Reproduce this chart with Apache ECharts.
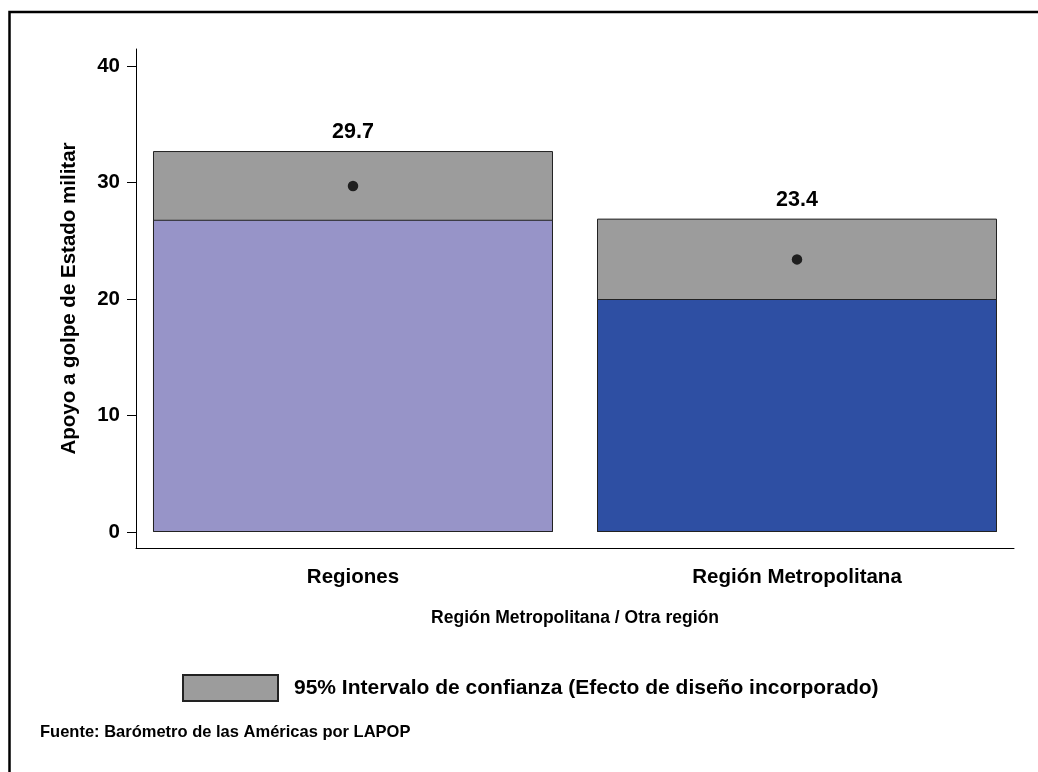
<!DOCTYPE html>
<html>
<head>
<meta charset="utf-8">
<script src="https://cdn.jsdelivr.net/npm/echarts@6/dist/echarts.min.js"></script>
<style>
  html, body { margin: 0; padding: 0; background: #fff; }
  #chart { width: 1038px; height: 772px; }
</style>
</head>
<body>
<div id="chart"></div>
<script>
// Support for a military coup, by region, with 95% confidence intervals
const categories = ['Regiones', 'Región Metropolitana'];
const means = [29.7, 23.4];
const ciLower = [26.8, 20.0];
const ciUpper = [32.7, 26.9];
const barColors = ['#9794c8', '#2e4fa3'];
const yTicks = [0, 10, 20, 30, 40];

const FONT = '"Liberation Sans", Arial, sans-serif';
const positions = categories.map((_, i) => i + 1);

const chart = echarts.init(document.getElementById('chart'), null, { renderer: 'canvas' });

chart.setOption({
  backgroundColor: '#fff',
  animation: false,
  textStyle: { fontFamily: FONT, fontWeight: 'bold', color: '#000' },
  grid: { left: 136, right: 24, top: 49, bottom: 224, containLabel: false },
  xAxis: {
    type: 'value',
    min: 0.5113,
    max: 2.4887,
    splitLine: { show: false },
    axisLine: { show: true, onZero: false, lineStyle: { color: '#000', width: 1 } },
    axisTick: { show: false },
    axisLabel: {
      customValues: positions,
      formatter: v => categories[Math.round(v) - 1] || '',
      margin: 19,
      fontSize: 20.5,
      fontWeight: 'bold',
      fontFamily: FONT,
      color: '#000'
    },
    name: 'Región Metropolitana / Otra región',
    nameLocation: 'middle',
    nameGap: 61,
    nameTextStyle: { fontSize: 17.5, fontWeight: 'bold', fontFamily: FONT, color: '#000' }
  },
  yAxis: {
    type: 'value',
    min: -1.373,
    max: 41.459,
    splitLine: { show: false },
    axisLine: { show: true, onZero: false, lineStyle: { color: '#000', width: 1 } },
    axisTick: { show: true, customValues: yTicks, length: 9, lineStyle: { color: '#000', width: 1 } },
    axisLabel: {
      customValues: yTicks,
      margin: 16,
      fontSize: 20.5,
      fontWeight: 'bold',
      fontFamily: FONT,
      color: '#000'
    },
    name: 'Apoyo a golpe de Estado militar',
    nameLocation: 'middle',
    nameGap: 56,
    nameTextStyle: { fontSize: 20.5, fontWeight: 'bold', fontFamily: FONT, color: '#000' }
  },
  legend: {
    data: ['95% Intervalo de confianza (Efecto de diseño incorporado)'],
    left: 182,
    top: 674,
    itemWidth: 95,
    itemHeight: 26,
    icon: 'rect',
    padding: 0,
    textStyle: { fontSize: 21, fontWeight: 'bold', fontFamily: FONT, color: '#000', padding: [0, 0, 0, 11] }
  },
  series: [
    {
      name: '95% Intervalo de confianza (Efecto de diseño incorporado)',
      type: 'bar',
      barWidth: 400,
      barGap: '-100%',
      z: 2,
      itemStyle: { color: '#9c9c9c', borderColor: '#222', borderWidth: 1 },
      label: {
        show: true,
        position: 'top',
        distance: 8,
        fontSize: 21.5,
        fontWeight: 'bold',
        fontFamily: FONT,
        color: '#000',
        formatter: p => means[p.dataIndex].toFixed(1)
      },
      data: positions.map((x, i) => [x, ciUpper[i]])
    },
    {
      name: 'base',
      type: 'bar',
      barWidth: 400,
      barGap: '-100%',
      z: 3,
      itemStyle: { borderColor: '#222', borderWidth: 1 },
      data: positions.map((x, i) => ({ value: [x, ciLower[i]], itemStyle: { color: barColors[i] } }))
    },
    {
      name: 'mean',
      type: 'scatter',
      symbol: 'circle',
      symbolSize: 10.5,
      z: 5,
      itemStyle: { color: '#000' },
      data: positions.map((x, i) => [x, means[i]])
    }
  ],
  graphic: [
    {
      type: 'polyline',
      shape: { points: [[9.5, 772], [9.5, 12], [1038, 12]] },
      style: { stroke: '#000', lineWidth: 2.5, fill: null }
    },
    {
      type: 'text',
      left: 40,
      top: 724,
      style: {
        text: 'Fuente: Barómetro de las Américas por LAPOP',
        fontSize: 16.5,
        fontWeight: 'bold',
        fontFamily: FONT,
        fill: '#000'
      }
    }
  ]
});
</script>
</body>
</html>
